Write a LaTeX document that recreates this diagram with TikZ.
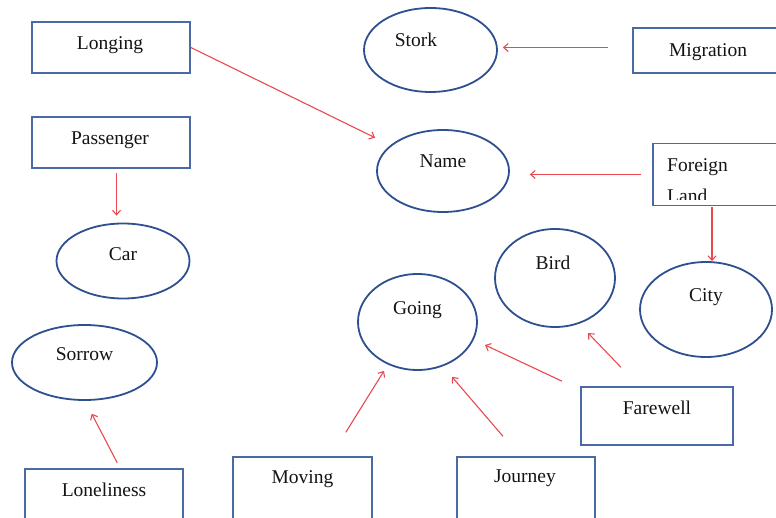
\documentclass[tikz,border=0pt]{standalone}
\usepackage{fontspec}
\setmainfont{Liberation Serif}
\usetikzlibrary{arrows.meta,shapes.geometric,calc}
\definecolor{boxblue}{HTML}{4A6AA5}
\definecolor{ellblue}{HTML}{2F5090}
\definecolor{arrred}{HTML}{E84A4F}
\definecolor{txtcol}{HTML}{141414}
\begin{document}
\begin{tikzpicture}[x=1pt,y=-1pt,
  txt/.style={font=\fontsize{19.5}{22}\selectfont, text=txtcol, inner sep=0pt, text height=13pt, text depth=4pt},
  bx/.style={draw=boxblue, line width=1.8pt, rectangle, inner sep=0pt},
  ell/.style={draw=ellblue, line width=1.8pt, ellipse, inner sep=0pt},
  arr/.style={draw=arrred, line width=1.1pt, -{Straight Barb[length=4.5pt,width=8pt,line width=1.1pt]}}]
\clip (0,0) rectangle (776,518);
\fill[white] (0,0) rectangle (776,518);

% rectangles
\node[bx, minimum width=158pt, minimum height=51pt,
  label={[txt,xshift=-1pt,yshift=2pt]center:Longing}] (Longing) at (111,47.5) {};
\node[bx, minimum width=158pt, minimum height=51pt,
  label={[txt,xshift=-1pt,yshift=2.5pt]center:Passenger}] (Passenger) at (111,142.5) {};
\node[bx, minimum width=147pt, minimum height=45pt,
  label={[txt,xshift=1.5pt,yshift=-1.5pt]center:Migration}] (Migration) at (706.5,50.5) {};
\node[bx, minimum width=152pt, minimum height=58pt,
  label={[txt,yshift=6pt]center:Farewell}] (Farewell) at (657,416) {};
\node[bx, minimum width=158pt, minimum height=54pt,
  label={[txt,yshift=4.5pt]center:Loneliness}] (Loneliness) at (104,496) {};
\node[bx, minimum width=139pt, minimum height=66pt,
  label={[txt,yshift=11.5pt]center:Moving}] (Moving) at (302.5,490) {};
\node[bx, minimum width=138pt, minimum height=66pt,
  label={[txt,xshift=-1pt,yshift=12pt]center:Journey}] (Journey) at (526,490) {};

% Foreign Land box (second line cut off by the frame)
\begin{scope}
  \clip (653,143) rectangle (780,199.5);
  \node[txt, anchor=base west] (FL1) at (667,172) {Foreign};
  \node[txt, anchor=base west] (FL2) at (667,203) {Land};
\end{scope}
\node[bx, minimum width=127pt, minimum height=62pt] (Foreign) at (716.5,174.5) {};

% ellipses
\node[ell, minimum width=133pt, minimum height=84pt,
  label={[txt,xshift=-14.5pt,yshift=8pt]center:Stork}] (Stork) at (430.5,50) {};
\node[ell, minimum width=132pt, minimum height=82pt,
  label={[txt,yshift=8pt]center:Name}] (Name) at (443,171) {};
\node[ell, minimum width=133pt, minimum height=75pt,
  label={[txt,yshift=4.5pt]center:Car}] (Car) at (123,261) {};
\node[ell, minimum width=145pt, minimum height=75pt,
  label={[txt,yshift=6.5pt]center:Sorrow}] (Sorrow) at (84.5,362.5) {};
\node[ell, minimum width=119pt, minimum height=96pt,
  label={[txt,yshift=12pt]center:Going}] (Going) at (417.5,322) {};
\node[ell, minimum width=120pt, minimum height=98pt,
  label={[txt,xshift=-2pt,yshift=13pt]center:Bird}] (Bird) at (555,278) {};
\node[ell, minimum width=132pt, minimum height=95pt,
  label={[txt,yshift=12.5pt]center:City}] (City) at (706,309.5) {};

% connectors
\draw[arr, shorten >=17pt] (Longing.east) -- (Name);
\draw[arr, shorten <=24pt, shorten >=5pt]
  ($(Migration.west)+(0,-3)$) -- ($(Migration.west -| Stork.east)+(0,-3)$);
\draw[arr, shorten <=11pt, shorten >=20pt] (Foreign.west) -- (Foreign.west -| Name.east);
\draw[arr, shorten <=1pt]
  ($(Foreign.south)+(-4.5,0)$) -- ($(Foreign.south |- City.north)+(-4.5,0)$);
\draw[arr, shorten <=4pt, shorten >=7pt]
  ($(Passenger.south)+(5.5,0)$) -- ($(Passenger.south |- Car.north)+(5.5,0)$);
\draw[arr, shorten <=6pt, shorten >=14.5pt]
  ($(Loneliness.north)+(16,0)$) -- ($(Sorrow.south)+(0.5,0)$);
\draw[arr, shorten <=28pt]
  ($(Moving.north)+(28.5,0)$) -- ($(Going.south)+(-33.5,0)$);
\draw[arr, shorten <=26pt]
  ($(Journey.north)+(-6,0)$) -- ($(Going.south)+(34.5,6)$);
\draw[arr, shorten <=11.5pt]
  ($(Farewell.north west)+(-7.7,0)$) -- ($(Going.center)+(67.5,23)$);
\draw[arr, shorten <=26pt]
  ($(Farewell.north)+(-18,0)$) -- ($(Bird.center)+(33,55)$);
\end{tikzpicture}
\end{document}
